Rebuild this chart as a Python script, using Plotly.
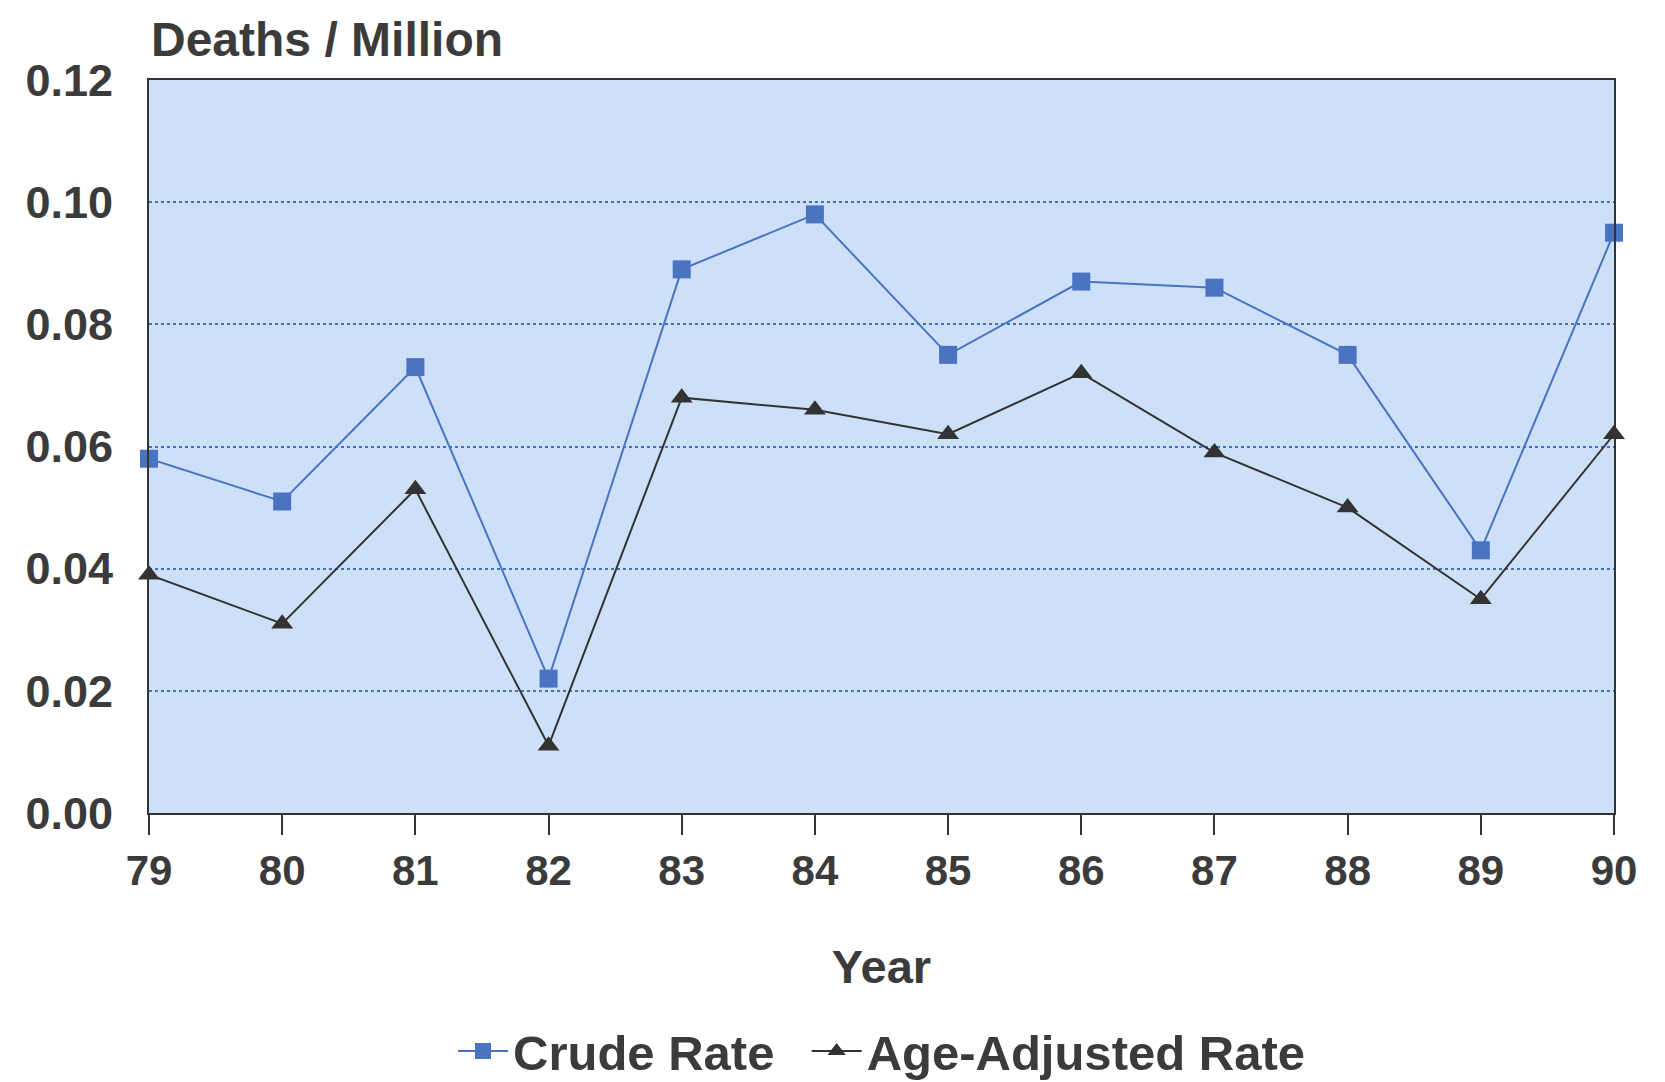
import plotly.graph_objects as go

years = [79, 80, 81, 82, 83, 84, 85, 86, 87, 88, 89, 90]
crude_rate = [0.058, 0.051, 0.073, 0.022, 0.089, 0.098, 0.075, 0.087, 0.086, 0.075, 0.043, 0.095]
age_adjusted_rate = [0.039, 0.031, 0.053, 0.011, 0.068, 0.066, 0.062, 0.072, 0.059, 0.050, 0.035, 0.062]
y_ticks = [0.00, 0.02, 0.04, 0.06, 0.08, 0.10, 0.12]
y_tick_labels = ["0.00", "0.02", "0.04", "0.06", "0.08", "0.10", "0.12"]

FONT = "Liberation Sans, Arial, sans-serif"
TXT = "#3b3b3b"

fig = go.Figure()
fig.add_trace(go.Scatter(
    x=years, y=crude_rate, name="Crude Rate\u00a0\u00a0", mode="lines+markers",
    line=dict(color="#4a73c2", width=2),
    marker=dict(symbol="square", size=18, color="#4a73c2"),
    cliponaxis=False,
))
fig.add_trace(go.Scatter(
    x=years, y=age_adjusted_rate, name="Age-Adjusted Rate", mode="lines+markers",
    line=dict(color="#333333", width=2),
    marker=dict(symbol="triangle-up", size=19, color="#333333"),
    cliponaxis=False,
))

fig.update_layout(
    width=1665, height=1082,
    margin=dict(l=141, r=59, t=72, b=277, autoexpand=False),
    paper_bgcolor="white",
    plot_bgcolor="#cde0f8",
    font=dict(family=FONT, size=44, color=TXT),
    showlegend=True,
    legend=dict(orientation="h", x=0.5, xanchor="center", xref="paper",
                y=0.036, yanchor="middle", yref="container",
                font=dict(family=FONT, size=49, color=TXT, weight="bold"),
                bgcolor="rgba(0,0,0,0)", itemwidth=50),
    annotations=[dict(text="<b>Deaths / Million</b>", xref="paper", yref="paper",
                      x=0, y=1, xanchor="left", yanchor="bottom", yshift=12,
                      showarrow=False, font=dict(family=FONT, size=48, color=TXT))],
)
fig.update_xaxes(
    range=[79, 90], tickmode="array", tickvals=years, ticktext=[str(y) for y in years],
    ticks="outside", ticklen=20, tickwidth=1.5, tickcolor="#333",
    showline=True, linecolor="#333", linewidth=2, mirror=True,
    showgrid=False, zeroline=False,
    tickfont=dict(family=FONT, size=42, color=TXT, weight="bold"),
    title=dict(text="<b>Year</b>", font=dict(family=FONT, size=47, color=TXT), standoff=57),
)
fig.update_yaxes(
    range=[0, 0.12], tickmode="array", tickvals=y_ticks, ticktext=y_tick_labels,
    ticks="", ticklabelstandoff=25, showline=True, linecolor="#333", linewidth=2, mirror=True,
    showgrid=True, gridcolor="#3f6fc8", griddash="dot", gridwidth=2,
    zeroline=False,
    tickfont=dict(family=FONT, size=45, color=TXT, weight="bold"),
)

fig.write_html("out.html")
